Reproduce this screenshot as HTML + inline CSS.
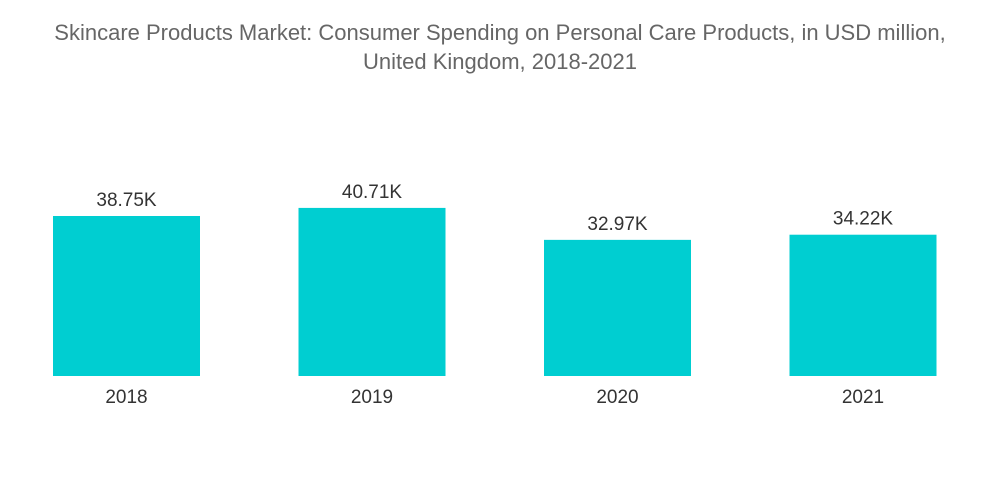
<!DOCTYPE html>
<html>
<head>
<meta charset="utf-8">
<style>
  html, body { margin: 0; padding: 0; background: #fff; }
  body { width: 1000px; height: 504px; overflow: hidden; font-family: "Liberation Sans", sans-serif; }
  .title { position: absolute; top: 18px; left: 0; width: 1000px; text-align: center; color: #666; font-size: 22px; line-height: 29px; }
</style>
</head>
<body>
<div class="title">Skincare Products Market: Consumer Spending on Personal Care Products, in USD million,<br>United Kingdom, 2018-2021</div>
<svg id="chart" width="1000" height="504" style="position:absolute;left:0;top:0"></svg>
<script>
const categories = ["2018", "2019", "2020", "2021"];
const values = [38.75, 40.71, 32.97, 34.22];
const valueLabels = ["38.75K", "40.71K", "32.97K", "34.22K"];

const svg = document.getElementById('chart');
const NS = 'http://www.w3.org/2000/svg';
const baseY = 376, pxPerUnit = 4.129;
const firstX = 53, step = 245.5, barW = 147;
function yScale(v) { return baseY - v * pxPerUnit; }
function xScale(i) { return firstX + i * step; }

categories.forEach((c, i) => {
  const x = xScale(i), y = yScale(values[i]);
  const r = document.createElementNS(NS, 'rect');
  r.setAttribute('x', x); r.setAttribute('y', y);
  r.setAttribute('width', barW); r.setAttribute('height', baseY - y);
  r.setAttribute('fill', '#00CED1');
  
  
  svg.appendChild(r);

  const t = document.createElementNS(NS, 'text');
  t.setAttribute('x', x + barW / 2); t.setAttribute('y', y - 10);
  t.setAttribute('text-anchor', 'middle'); t.setAttribute('font-size', '19');
  t.setAttribute('fill', '#333'); t.setAttribute('font-family', 'Liberation Sans, sans-serif');
  t.textContent = valueLabels[i];
  
  
  svg.appendChild(t);

  const l = document.createElementNS(NS, 'text');
  l.setAttribute('x', x + barW / 2); l.setAttribute('y', 403);
  l.setAttribute('text-anchor', 'middle'); l.setAttribute('font-size', '19');
  l.setAttribute('fill', '#333'); l.setAttribute('font-family', 'Liberation Sans, sans-serif');
  l.textContent = c;
  
  
  svg.appendChild(l);
});
</script>
</body>
</html>
